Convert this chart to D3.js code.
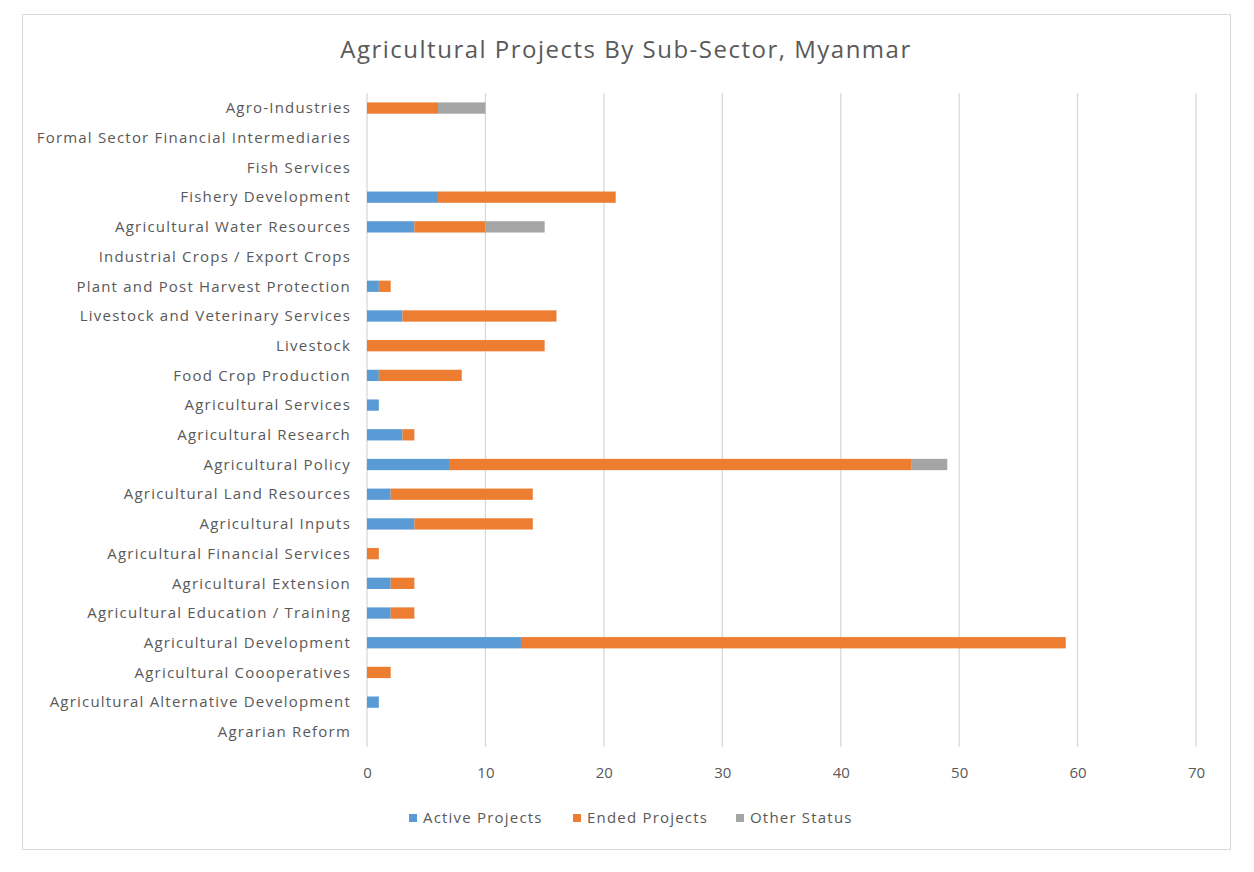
<!DOCTYPE html>
<html><head><meta charset="utf-8">
<script src="https://cdn.jsdelivr.net/npm/d3@7"></script>
<style>body{margin:0;background:#fff;} text{font-family:"Open Sans",sans-serif;}</style>
</head><body>
<svg id="c" width="1254" height="872"></svg>
<script>
const categories = ["Agro-Industries","Formal Sector Financial Intermediaries","Fish Services","Fishery Development","Agricultural Water Resources","Industrial Crops / Export Crops","Plant and Post Harvest Protection","Livestock and Veterinary Services","Livestock","Food Crop Production","Agricultural Services","Agricultural Research","Agricultural Policy","Agricultural Land Resources","Agricultural Inputs","Agricultural Financial Services","Agricultural Extension","Agricultural Education / Training","Agricultural Development","Agricultural Coooperatives","Agricultural Alternative Development","Agrarian Reform"];
const activeProjects = [0,0,0,6,4,0,1,3,0,1,1,3,7,2,4,0,2,2,13,0,1,0];
const endedProjects  = [6,0,0,15,6,0,1,13,15,7,0,1,39,12,10,1,2,2,46,2,0,0];
const otherStatus    = [4,0,0,0,5,0,0,0,0,0,0,0,3,0,0,0,0,0,0,0,0,0];
const seriesNames = ["Active Projects","Ended Projects","Other Status"];
const seriesColors = ["#5b9bd5","#ed7d31","#a5a5a5"];
const xTicks = [0,10,20,30,40,50,60,70];

const svg = d3.select("#c");
svg.append("rect").attr("x",22.5).attr("y",14.5).attr("width",1208).attr("height",835)
  .attr("fill","#fff").attr("stroke","#d9d9d9");
svg.append("text").attr("x",626).attr("y",58).attr("text-anchor","middle")
  .attr("font-size",24).attr("letter-spacing","1.5px").attr("fill","#595959").text("Agricultural Projects By Sub-Sector, Myanmar");

const x = d3.scaleLinear().domain([0,70]).range([367,1196]);
const y = d3.scaleBand().domain(categories).range([93.2,746.7]).paddingInner(0.62).paddingOuter(0.31);

svg.append("g").selectAll("line").data(xTicks).join("line")
  .attr("x1",d=>x(d)).attr("x2",d=>x(d)).attr("y1",93).attr("y2",747)
  .attr("stroke","#d9d9d9").attr("stroke-width",1.3);

const rows = categories.map((c,i)=>({c, vals:[activeProjects[i],endedProjects[i],otherStatus[i]]}));
const stack = d3.stack().keys([0,1,2]).value((d,k)=>d.vals[k])(rows);
svg.append("g").selectAll("g").data(stack).join("g").attr("fill",(d,i)=>seriesColors[i])
  .selectAll("rect").data(d=>d.filter(s=>s[1]>s[0])).join("rect")
  .attr("x",d=>x(d[0])).attr("width",d=>x(d[1])-x(d[0]))
  .attr("y",d=>y(d.data.c)).attr("height",y.bandwidth());

const yAxis = svg.append("g").attr("transform","translate(351,0)")
  .call(d3.axisLeft(y).tickSize(0).tickPadding(0));
yAxis.select(".domain").remove();
yAxis.selectAll("text").attr("font-size",15).attr("letter-spacing","1.2px").attr("fill","#595959").attr("font-family","Open Sans, sans-serif").attr("dy","0.35em");

const xAxis = svg.append("g").attr("transform","translate(0,764)")
  .call(d3.axisBottom(x).tickValues(xTicks).tickSize(0).tickPadding(0));
xAxis.select(".domain").remove();
xAxis.selectAll("text").attr("font-size",15).attr("fill","#595959").attr("font-family","Open Sans, sans-serif").attr("dy","0.9em");

const legX = [409,573,736];
const leg = svg.append("g").selectAll("g").data(seriesNames).join("g")
  .attr("transform",(d,i)=>`translate(${legX[i]},818)`);
leg.append("rect").attr("x",0).attr("y",-4).attr("width",8).attr("height",8).attr("fill",(d,i)=>seriesColors[i]);
leg.append("text").attr("x",14).attr("dy","0.35em").attr("font-size",15).attr("letter-spacing","1.2px").attr("fill","#595959").text(d=>d);
</script>
</body></html>
